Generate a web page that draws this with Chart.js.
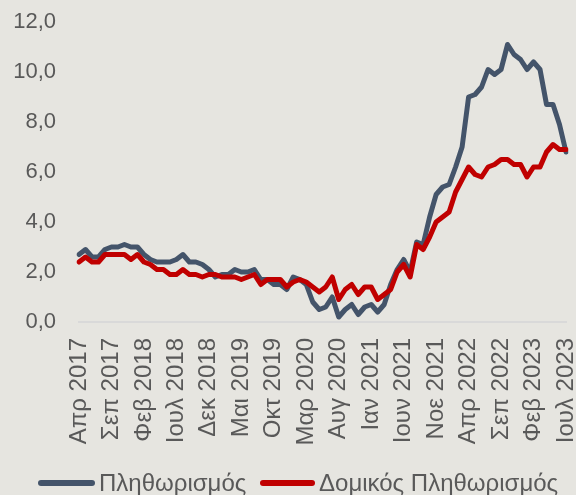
<!DOCTYPE html>
<html>
<head>
<meta charset="utf-8">
<script src="https://cdn.jsdelivr.net/npm/chart.js@4/dist/chart.umd.min.js"></script>
<style>
  html, body { margin: 0; padding: 0; background: #E6E5E0; }
  #wrap { position: relative; width: 576px; height: 495px; overflow: hidden; background: #E6E5E0; }
  #c { position: absolute; left: 0; top: 0; }
  .lg { position: absolute; font-family: "Liberation Sans", Arial, sans-serif; font-size: 24px; line-height: 24px; color: #595959; white-space: nowrap; }
  .sw { position: absolute; height: 6px; border-radius: 3px; }
</style>
</head>
<body>
<div id="wrap">
  <canvas id="c" width="576" height="495"></canvas>
  <div class="sw" id="sw0" style="left:38px; top:480px; width:57px;"></div>
  <div class="lg" id="lg0" style="left:99px; top:471px;"></div>
  <div class="sw" id="sw1" style="left:260px; top:480px; width:55px;"></div>
  <div class="lg" id="lg1" style="left:319px; top:471px;"></div>
</div>
<script>
// ---- Data ----
const categories = [
  'Απρ 2017','Μαι 2017','Ιουν 2017','Ιουλ 2017','Αυγ 2017','Σεπ 2017','Οκτ 2017','Νοε 2017','Δεκ 2017',
  'Ιαν 2018','Φεβ 2018','Μαρ 2018','Απρ 2018','Μαι 2018','Ιουν 2018','Ιουλ 2018','Αυγ 2018','Σεπ 2018','Οκτ 2018','Νοε 2018','Δεκ 2018',
  'Ιαν 2019','Φεβ 2019','Μαρ 2019','Απρ 2019','Μαι 2019','Ιουν 2019','Ιουλ 2019','Αυγ 2019','Σεπ 2019','Οκτ 2019','Νοε 2019','Δεκ 2019',
  'Ιαν 2020','Φεβ 2020','Μαρ 2020','Απρ 2020','Μαι 2020','Ιουν 2020','Ιουλ 2020','Αυγ 2020','Σεπ 2020','Οκτ 2020','Νοε 2020','Δεκ 2020',
  'Ιαν 2021','Φεβ 2021','Μαρ 2021','Απρ 2021','Μαι 2021','Ιουν 2021','Ιουλ 2021','Αυγ 2021','Σεπ 2021','Οκτ 2021','Νοε 2021','Δεκ 2021',
  'Ιαν 2022','Φεβ 2022','Μαρ 2022','Απρ 2022','Μαι 2022','Ιουν 2022','Ιουλ 2022','Αυγ 2022','Σεπ 2022','Οκτ 2022','Νοε 2022','Δεκ 2022',
  'Ιαν 2023','Φεβ 2023','Μαρ 2023','Απρ 2023','Μαι 2023','Ιουν 2023','Ιουλ 2023'
];

const tickLabels = [
  'Απρ 2017','Σεπ 2017','Φεβ 2018','Ιουλ 2018','Δεκ 2018','Μαι 2019','Οκτ 2019','Μαρ 2020',
  'Αυγ 2020','Ιαν 2021','Ιουν 2021','Νοε 2021','Απρ 2022','Σεπ 2022','Φεβ 2023','Ιουλ 2023'
];

const seriesNames = ['Πληθωρισμός', 'Δομικός Πληθωρισμός'];

const inflation = [
  2.7, 2.9, 2.6, 2.6, 2.9, 3.0, 3.0, 3.1, 3.0,
  3.0, 2.7, 2.5, 2.4, 2.4, 2.4, 2.5, 2.7, 2.4, 2.4, 2.3, 2.1,
  1.8, 1.9, 1.9, 2.1, 2.0, 2.0, 2.1, 1.7, 1.7, 1.5, 1.5, 1.3,
  1.8, 1.7, 1.5, 0.8, 0.5, 0.6, 1.0, 0.2, 0.5, 0.7, 0.3, 0.6,
  0.7, 0.4, 0.7, 1.5, 2.1, 2.5, 2.0, 3.2, 3.1, 4.2, 5.1, 5.4,
  5.5, 6.2, 7.0, 9.0, 9.1, 9.4, 10.1, 9.9, 10.1, 11.1, 10.7, 10.5,
  10.1, 10.4, 10.1, 8.7, 8.7, 7.9, 6.8
];

const coreInflation = [
  2.4, 2.6, 2.4, 2.4, 2.7, 2.7, 2.7, 2.7, 2.5,
  2.7, 2.4, 2.3, 2.1, 2.1, 1.9, 1.9, 2.1, 1.9, 1.9, 1.8, 1.9,
  1.9, 1.8, 1.8, 1.8, 1.7, 1.8, 1.9, 1.5, 1.7, 1.7, 1.7, 1.4,
  1.6, 1.7, 1.6, 1.4, 1.2, 1.4, 1.8, 0.9, 1.3, 1.5, 1.1, 1.4,
  1.4, 0.9, 1.1, 1.3, 2.0, 2.3, 1.8, 3.1, 2.9, 3.4, 4.0, 4.2,
  4.4, 5.2, 5.7, 6.2, 5.9, 5.8, 6.2, 6.3, 6.5, 6.5, 6.3, 6.3,
  5.8, 6.2, 6.2, 6.8, 7.1, 6.9, 6.9
];

const seriesColors = ['#44546A', '#C00000'];

// ---- Legend (HTML text) ----
document.getElementById('lg0').textContent = seriesNames[0];
document.getElementById('lg1').textContent = seriesNames[1];
document.getElementById('sw0').style.background = seriesColors[0];
document.getElementById('sw1').style.background = seriesColors[1];

// ---- Chart ----
const FONT = '"Liberation Sans", Arial, sans-serif';
new Chart(document.getElementById('c').getContext('2d'), {
  type: 'line',
  data: {
    labels: categories,
    datasets: [
      {
        label: seriesNames[0], data: inflation, borderColor: seriesColors[0], backgroundColor: seriesColors[0],
        borderWidth: 5, pointRadius: 0, tension: 0, fill: false,
        borderJoinStyle: 'round', borderCapStyle: 'round', order: 1
      },
      {
        label: seriesNames[1], data: coreInflation, borderColor: seriesColors[1], backgroundColor: seriesColors[1],
        borderWidth: 5, pointRadius: 0, tension: 0, fill: false,
        borderJoinStyle: 'round', borderCapStyle: 'round', order: 0
      }
    ]
  },
  options: {
    responsive: false,
    animation: false,
    devicePixelRatio: 1,
    layout: { padding: { top: 22, right: 10, bottom: 0, left: 0 } },
    plugins: { legend: { display: false }, tooltip: { enabled: false } },
    scales: {
      x: {
        type: 'category',
        offset: false,
        grid: { display: false, drawTicks: false },
        border: { display: true, color: '#D9D9D9', width: 2 },
        ticks: {
          autoSkip: false, minRotation: 90, maxRotation: 90, padding: 16,
          color: '#595959', font: { family: FONT, size: 24 },
          callback: function (value) {
            const l = this.getLabelForValue(value);
            return tickLabels.includes(l) ? l : '';
          }
        },
        afterFit: function (s) { s.height = 173; s.paddingLeft = 0; s.paddingRight = 0; }
      },
      y: {
        min: 0, max: 12,
        grid: { display: false, drawTicks: false },
        border: { display: false },
        ticks: {
          stepSize: 2, padding: 23, color: '#595959', font: { family: FONT, size: 22 },
          callback: function (v) { return v.toFixed(1).replace('.', ','); }
        },
        afterFit: function (s) { s.width = 79; s.paddingTop = 0; s.paddingBottom = 0; }
      }
    }
  }
});
</script>
</body>
</html>
